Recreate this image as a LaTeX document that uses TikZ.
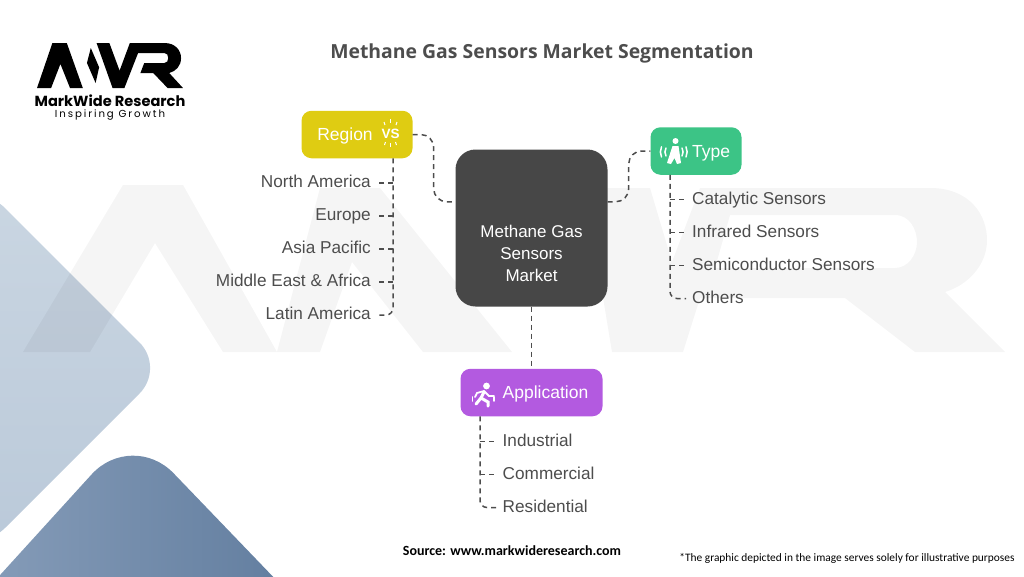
\documentclass[tikz,border=0pt]{standalone}
\usepackage{fontspec}
\usepackage{xcolor}
\usepackage{tikz}
\usetikzlibrary{shapes.geometric, positioning, calc}
\setmainfont{Liberation Sans}
\newfontfamily\titlefont{Open Sans}
\newfontfamily\notefont{Carlito}
\newfontfamily\logofont{Poppins}
\newfontfamily\taglinefont[LetterSpace=19]{Poppins}
\definecolor{inkgray}{HTML}{4D4D4D}
\definecolor{hubgray}{HTML}{474747}
\definecolor{regionyellow}{HTML}{DFCC12}
\definecolor{typegreen}{HTML}{3CC486}
\definecolor{appviolet}{HTML}{B35AE0}
\tikzstyle{hubbox} = [rectangle, rounded corners=20pt, minimum width=152pt, minimum height=157pt, align=center, fill=hubgray, text=white, font=\fontsize{17}{22}\selectfont]
\tikzstyle{catbox} = [rectangle, rounded corners=10pt, minimum height=47.5pt, text=white, text height=14pt, text depth=2pt, font=\fontsize{17.5}{20}\selectfont]
\tikzstyle{itemnode} = [text=inkgray, font=\fontsize{17.2}{20}\selectfont, text height=12pt, text depth=3pt, inner ysep=0pt, inner xsep=6pt]
\tikzstyle{dashline} = [draw=inkgray, line width=1.5pt, dash pattern=on 5pt off 4pt]
\tikzstyle{iconline} = [draw=white, line width=1.5pt, line cap=round]

\begin{document}
\begin{tikzpicture}[x=1pt, y=-1pt]
        \useasboundingbox (0,0) rectangle (1024,576);
        \clip (0,0) rectangle (1024,576);

        % Corner shapes
        \shade[top color={rgb,255:red,202;green,214;blue,226}, bottom color={rgb,255:red,186;green,201;blue,217}, rounded corners=36pt] (-20,183) -- (165,368) -- (-20,553) -- cycle;
        \shade[left color={rgb,255:red,143;green,164;blue,191}, right color={rgb,255:red,88;green,117;blue,152}, rounded corners=60pt] (-100,685) -- (132,430) -- (380,688) -- cycle;

        % Watermark
        \begin{scope}[fill=black, fill opacity=0.04]
            \fill (23,352) -- (123,185) -- (183,185) -- (277,352) -- (223,352) -- (155,243) -- (90,352) -- cycle;
            \fill (277,352) -- (320,188) -- (380,188) -- (512,352) -- (423,352) -- (352,262) -- (320,352) -- cycle;
            \fill[even odd rule] (585,188) -- (650,188) -- (672,262) -- (700,188) -- (930,188) .. controls (970,188) and (987,215) .. (987,240) .. controls (987,265) and (968,285) .. (945,292) -- (1005,352) -- (915,352) -- (845,298) -- (700,298) -- (683,352) -- (612,352) -- cycle
                (730,215) -- (895,215) .. controls (910,215) and (917,230) .. (917,242) .. controls (917,255) and (908,268) .. (895,268) -- (715,268) -- cycle;
        \end{scope}

        % Logo
        \begin{scope}[shift={(30,38)}, xscale=0.32, yscale=1/3, fill=black]
            \fill (22,150) -- (70,15) -- (115,15) -- (165,150) -- (125,150) -- (95,78) -- (66,150) -- cycle;
            \fill (190,30) -- (178,75) -- (205,135) -- (216,88) -- cycle;
            \fill (208,15) -- (248,15) -- (280,98) -- (312,15) -- (350,15) -- (295,150) -- (258,150) -- cycle;
            \fill (345,15) -- (420,15) .. controls (455,15) and (472,38) .. (472,60) .. controls (472,85) and (455,100) .. (435,105) -- (478,150) -- (430,150) -- (385,105) -- (345,105) -- (357,75) -- (420,75) .. controls (428,75) and (432,68) .. (432,60) .. controls (432,52) and (428,45) .. (420,45) -- (335,45) -- cycle;
        \end{scope}
        \node (logoname) at (110,101) {\logofont\bfseries\fontsize{14.6}{15}\selectfont MarkWide Research};
        \node (logotag) at (110,115) {\taglinefont\fontsize{10.2}{11}\selectfont Inspiring Growth};

        % Title and notes
        \node (title) at (542,53) [text=inkgray] {\titlefont\bfseries\fontsize{19.4}{24}\selectfont Methane Gas Sensors Market Segmentation};
        \node (source) at (512,551) {\notefont\bfseries\fontsize{14}{16}\selectfont Source: www.markwideresearch.com};
        \node (note) at (847,558) {\notefont\fontsize{11.4}{14}\selectfont *The graphic depicted in the image serves solely for illustrative purposes};

        % Hub and category boxes
        \node (hub) [hubbox] at (531.5,228) {\rule{0pt}{64pt}Methane Gas\\Sensors\\Market};
        \node (region) [catbox, fill=regionyellow, minimum width=111pt] at (357,134.5) {Region\hspace{24pt}\null};
        \node (type) [catbox, fill=typegreen, minimum width=91pt] at (696,151) {\hspace{30pt}Type};
        \node (application) [catbox, fill=appviolet, minimum width=142pt] at (531.5,392.5) {\hspace{28pt}Application};

        % Region items
        \node (namerica) [itemnode, anchor=east] at (377,183) {North America};
        \node (europe) [itemnode, below=17.6pt of namerica.south east, anchor=north east] {Europe};
        \node (asia) [itemnode, below=17.6pt of europe.south east, anchor=north east] {Asia Pacific};
        \node (mea) [itemnode, below=17.6pt of asia.south east, anchor=north east] {Middle East \& Africa};
        \node (latam) [itemnode, below=17.6pt of mea.south east, anchor=north east] {Latin America};

        % Type items
        \node (catalytic) [itemnode, anchor=west] at (686,199.5) {Catalytic Sensors};
        \node (infrared) [itemnode, below=17.6pt of catalytic.south west, anchor=north west] {Infrared Sensors};
        \node (semi) [itemnode, below=17.6pt of infrared.south west, anchor=north west] {Semiconductor Sensors};
        \node (others) [itemnode, below=17.6pt of semi.south west, anchor=north west] {Others};

        % Application items
        \node (industrial) [itemnode, anchor=west] at (496.5,441.5) {Industrial};
        \node (commercial) [itemnode, below=17.6pt of industrial.south west, anchor=north west] {Commercial};
        \node (residential) [itemnode, below=17.6pt of commercial.south west, anchor=north west] {Residential};

        % Hub connectors
        \draw[dashline, rounded corners=13pt] (region.east) -- +(21,0) |- (hub.161);
        \draw[dashline, rounded corners=13pt] (hub.19) -- +(21,0) |- (type.west);
        \draw[dashline] (hub.south) -- (application.north);

        % Trunks
        \coordinate (regiontrunk) at ([xshift=36pt]region.south);
        \coordinate (typetrunk) at ([xshift=-26pt]type.south);
        \coordinate (apptrunk) at ([xshift=-51.5pt]application.south);
        \draw[dashline, rounded corners=7pt] (regiontrunk) |- (latam.east);
        \draw[dashline, rounded corners=7pt] (typetrunk) |- (others.west);
        \draw[dashline, rounded corners=7pt] (apptrunk) |- (residential.west);
        \foreach \ent in {namerica,europe,asia,mea}
            \draw[dashline] (\ent.east -| regiontrunk) -- (\ent.east);
        \foreach \ent in {catalytic,infrared,semi}
            \draw[dashline] (\ent.west -| typetrunk) -- (\ent.west);
        \foreach \ent in {industrial,commercial}
            \draw[dashline] (\ent.west -| apptrunk) -- (\ent.west);

        % Region icon
        \node (vsmark) at (390.5,134) [text=white, inner sep=0pt] {\bfseries\fontsize{13.5}{14}\selectfont VS};
        \draw[white, line width=1pt] ($(vsmark)+(0,-11)$) -- +(0,-4);
        \draw[white, line width=1pt] ($(vsmark)+(-5.5,-9)$) -- +(-1,-3);
        \draw[white, line width=1pt] ($(vsmark)+(5.5,-9)$) -- +(1,-3);
        \draw[white, line width=1pt] ($(vsmark)+(0,9)$) -- +(0,4);
        \draw[white, line width=1pt] ($(vsmark)+(-5,8)$) -- +(-1,3);
        \draw[white, line width=1pt] ($(vsmark)+(5,8)$) -- +(1,3);

        % Type icon
        \fill[white] (675.5,141) circle (3pt);
        \fill[white] (672.5,146) -- (678.5,146) -- (681,163) -- (677,164) -- (674.5,158) -- (671,164) -- (667,163) -- cycle;
        \draw[iconline] (666,156) arc (150:210:8);
        \draw[iconline] (661.5,157) arc (155:205:12);
        \draw[iconline] (682,156) arc (30:-30:8);
        \draw[iconline] (686,157) arc (25:-25:12);

        % Application icon
        \fill[white] (486.5,386) circle (3.4pt);
        \draw[iconline, line width=3pt] (484,392) -- (481,398) -- (476,404);
        \draw[iconline, line width=3pt] (481,398) -- (488,402) -- (488,406);
        \draw[iconline, line width=1.8pt] (484,391) -- (477,393) -- (475,397);
        \draw[iconline, line width=1.8pt] (484,391) -- (489,396) -- (494,396);
        \draw[iconline] (472.5,401) arc (160:200:6);
        \draw[iconline] (494,401) arc (20:-20:6);

    \end{tikzpicture}
\end{document}
